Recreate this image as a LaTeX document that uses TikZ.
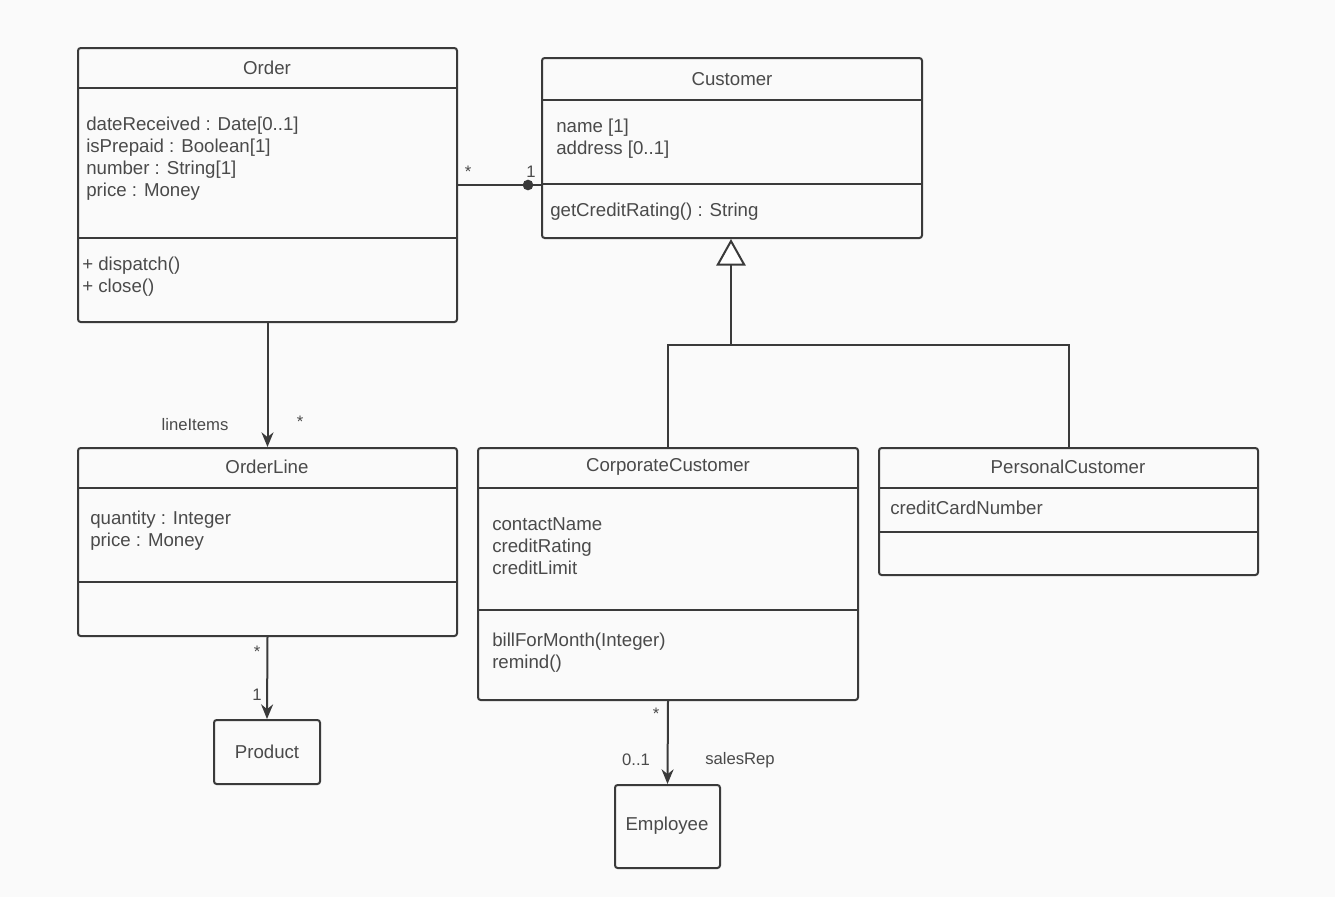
\documentclass[tikz,border=0pt]{standalone}
\usepackage{fontspec}
\setmainfont{Liberation Sans}
\usetikzlibrary{arrows.meta, positioning, fit}

\definecolor{linegray}{HTML}{3A3A3A}
\definecolor{textgray}{HTML}{4A4A4A}
\definecolor{bggray}{HTML}{FAFAFA}

\tikzset{
  classbox/.style={draw=linegray, line width=1.5pt, rounded corners=2pt, inner sep=0pt},
  sepline/.style={draw=linegray, line width=1.5pt},
  title/.style={text=textgray, font=\fontsize{14}{16}\selectfont},
  members/.style={anchor=west, align=left, text=textgray, font=\fontsize{14}{16.5}\selectfont, inner sep=0pt},
  mult/.style={text=textgray, font=\fontsize{12.5}{14}\selectfont, inner sep=1pt},
  assoc/.style={draw=linegray, line width=1.5pt},
  nav/.style={assoc, -{Stealth[length=11pt, width=9pt]}},
  gen/.style={assoc, -{Triangle[open, length=20pt, width=22pt, fill=white]}},
  dot/.style={circle, fill=linegray, inner sep=0pt, minimum size=8pt},
}

\begin{document}
\begin{tikzpicture}[x=0.75pt, y=-0.75pt]
  \fill[bggray] (0,0) rectangle (1335,897);
  \useasboundingbox (0,0) rectangle (1335,897);

  % Class boxes
  \node[classbox, fit={(78,48) (457,322)}] (order) {};
  \node[classbox, fit={(542,58) (922,238)}] (customer) {};
  \node[classbox, fit={(78,448) (457,636)}] (orderline) {};
  \node[classbox, fit={(478,448) (858,700)}] (corp) {};
  \node[classbox, fit={(879,448) (1258,575)}] (personal) {};
  \node[classbox, fit={(214,720) (320,784)}] (product) {};
  \node[classbox, fit={(615,785) (720,868)}] (employee) {};

  % Compartments
  \draw[sepline] (order.west |- 0,88) -- (order.east |- 0,88);
  \draw[sepline] (order.west |- 0,238) -- (order.east |- 0,238);
  \draw[sepline] (customer.west |- 0,100) -- (customer.east |- 0,100);
  \draw[sepline] (customer.west |- 0,184) -- (customer.east |- 0,184);
  \draw[sepline] (orderline.west |- 0,488) -- (orderline.east |- 0,488);
  \draw[sepline] (orderline.west |- 0,582) -- (orderline.east |- 0,582);
  \draw[sepline] (corp.west |- 0,488) -- (corp.east |- 0,488);
  \draw[sepline] (corp.west |- 0,610) -- (corp.east |- 0,610);
  \draw[sepline] (personal.west |- 0,488) -- (personal.east |- 0,488);
  \draw[sepline] (personal.west |- 0,532) -- (personal.east |- 0,532);

  % Titles
  \node[title] (orderT) at (267,68) {Order};
  \node[title] (customerT) at (732,79) {Customer};
  \node[title] (orderlineT) at (267,467) {OrderLine};
  \node[title] (corpT) at (668,467) {CorporateCustomer};
  \node[title] (personalT) at (1068,467) {PersonalCustomer};
  \node[title] (productT) at (267,752) {Product};
  \node[title] (employeeT) at (667,826) {Employee};

  % Members
  \node[members] (orderA) at (86,159) {dateReceived : Date[0..1]\\isPrepaid : Boolean[1]\\number : String[1]\\price : Money};
  \node[members] (orderM) at (82,277) {+ dispatch()\\+ close()};
  \node[members] (customerA) at (556,139) {name [1]\\address [0..1]};
  \node[members] (customerM) at (550,212) {getCreditRating() : String};
  \node[members] (orderlineA) at (90,531) {quantity : Integer\\price : Money};
  \node[members] (corpA) at (492,546) {contactName\\creditRating\\creditLimit};
  \node[members] (corpM) at (492,653) {billForMonth(Integer)\\remind()};
  \node[members] (personalA) at (890,508) {creditCardNumber};

  % Associations
  \node[dot] (navdot) at (528,185) {};
  \draw[assoc] (order.east |- navdot) -- (customer.west |- navdot);
  \draw[nav] (order.south) -- (orderline.north);
  \draw[nav] (orderline.south) -- (product.north);
  \draw[nav] (corp.south) -- (employee.north);

  % Generalization
  \coordinate (genjoin) at (731,345);
  \draw[assoc] (corp.north) |- (genjoin) -| (personal.north);
  \draw[gen] (genjoin) -- (customer.south -| genjoin);

  % Multiplicities and roles
  \node[mult] (m1) at (468,172) {*};
  \node[mult] (m2) at (531,172) {1};
  \node[mult] (m3) at (195,425) {lineItems};
  \node[mult] (m4) at (300,422) {*};
  \node[mult] (m5) at (257,652) {*};
  \node[mult] (m6) at (257,695) {1};
  \node[mult] (m7) at (656,714) {*};
  \node[mult] (m8) at (636,760) {0..1};
  \node[mult] (m9) at (740,760) {salesRep};
\end{tikzpicture}
\end{document}
